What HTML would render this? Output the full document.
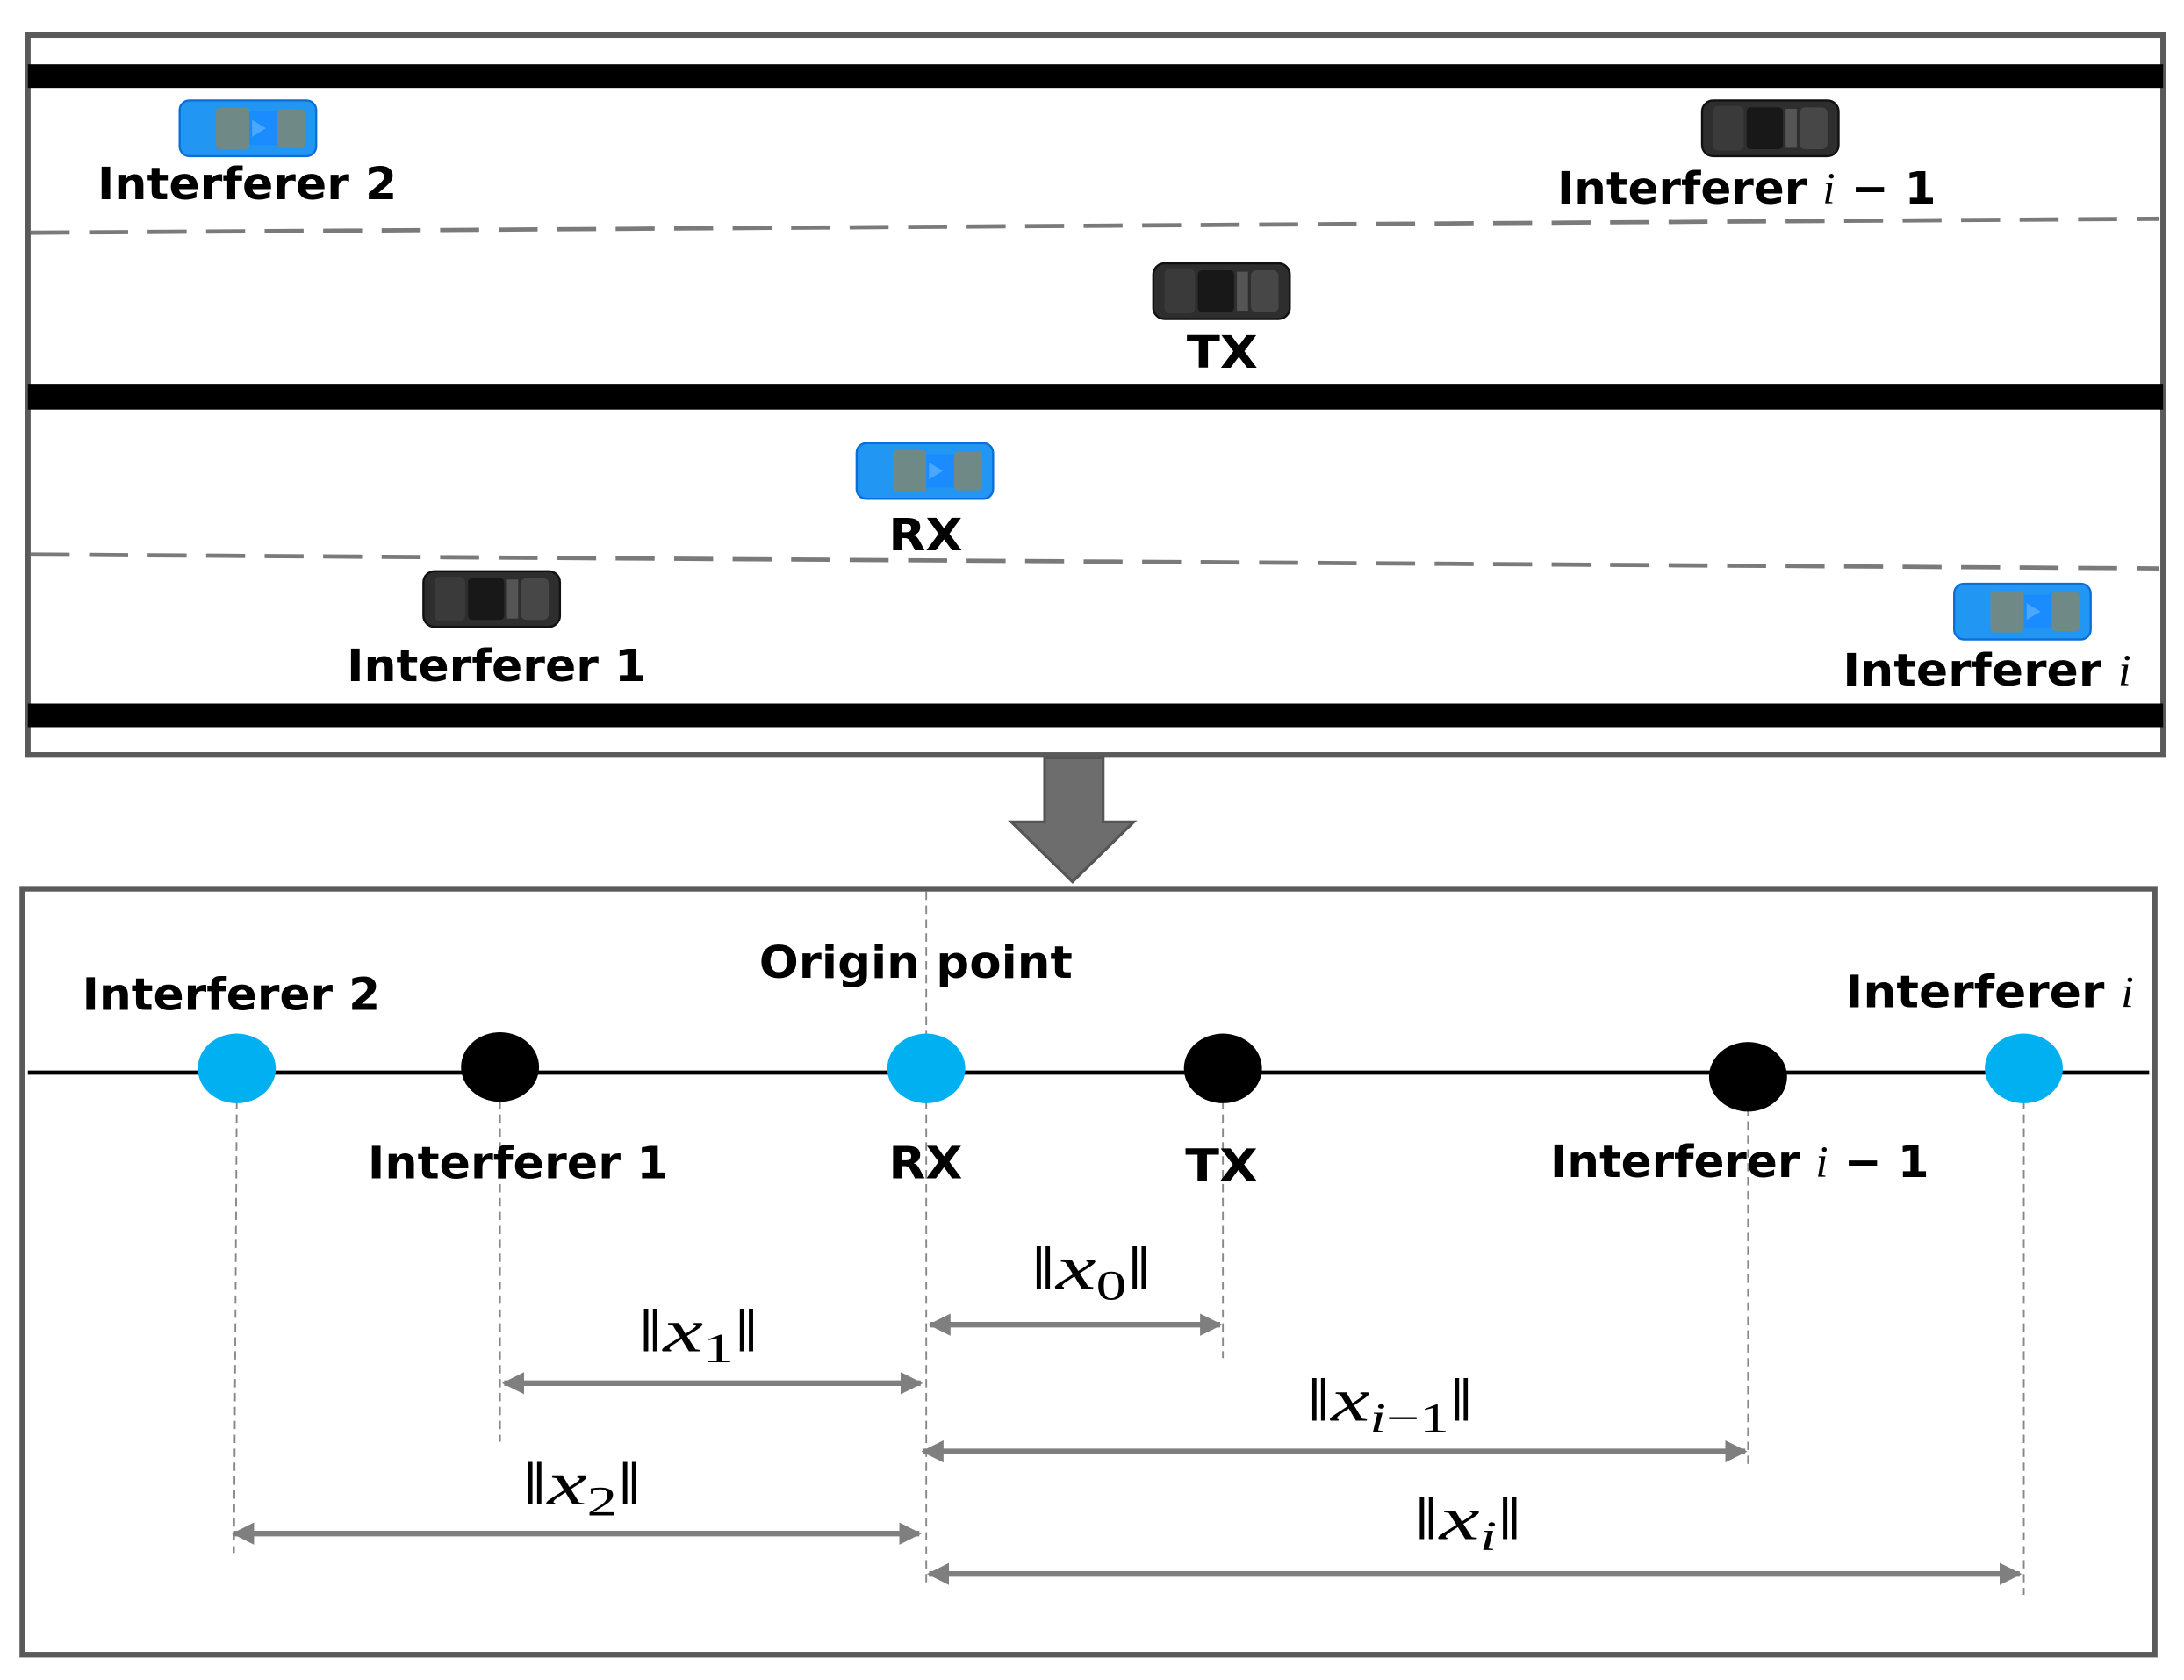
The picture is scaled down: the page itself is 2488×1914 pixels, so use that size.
<!DOCTYPE html>
<html><head><meta charset="utf-8"><style>
html,body{margin:0;padding:0;background:#fff;}
svg{display:block;}
.lb{font-family:"DejaVu Sans","Liberation Sans",sans-serif;font-weight:bold;font-size:32px;fill:#000;}
.m{font-family:"Liberation Serif",serif;font-size:44px;fill:#000;}
</style></head><body>
<svg width="2488" height="1914" viewBox="0 0 1568 1206" xmlns="http://www.w3.org/2000/svg">
<defs>
<g id="bc">
<rect x="0" y="0" width="98" height="40" rx="7" fill="#2196f3" stroke="#0a6fd8" stroke-width="1.5"/>
<rect x="26" y="5" width="24" height="30" rx="3" fill="#6f8a86"/>
<rect x="50" y="8" width="20" height="24" fill="#1a8cff"/>
<path d="M52 14 L62 20 L52 26Z" fill="#4aa8ff"/>
<rect x="70" y="6" width="20" height="28" rx="3" fill="#6f8a86"/>
</g>
<g id="kc">
<rect x="0" y="0" width="98" height="40" rx="8" fill="#2e2e2e" stroke="#111" stroke-width="1.5"/>
<rect x="8" y="4" width="22" height="32" rx="4" fill="#3a3a3a"/>
<rect x="32" y="5" width="26" height="30" rx="3" fill="#181818"/>
<rect x="60" y="6" width="8" height="28" fill="#555"/>
<rect x="70" y="5" width="20" height="30" rx="4" fill="#474747"/>
</g>
<marker id="a" viewBox="0 0 10 10" refX="9" refY="5" markerWidth="4" markerHeight="4" orient="auto-start-reverse">
<path d="M0 0 L10 5 L0 10 Z" fill="#7f7f7f"/></marker>
</defs>
<rect x="20" y="25" width="1533" height="517" fill="#fff" stroke="#5a5a5a" stroke-width="4"/>
<rect x="20" y="46" width="1533" height="17" fill="#000"/>
<rect x="20" y="276" width="1533" height="18" fill="#000"/>
<rect x="20" y="505" width="1533" height="17" fill="#000"/>
<line x1="22" y1="167" x2="1550" y2="157" stroke="#7a7a7a" stroke-width="3" stroke-dasharray="28 14"/>
<line x1="22" y1="398" x2="1550" y2="408" stroke="#7a7a7a" stroke-width="3" stroke-dasharray="28 14"/>
<use href="#bc" x="129" y="72"/>
<use href="#kc" x="1222" y="72"/>
<use href="#kc" x="828" y="189"/>
<use href="#bc" x="615" y="318"/>
<use href="#kc" x="304" y="410"/>
<use href="#bc" x="1403" y="419"/>
<g lengthAdjust="spacingAndGlyphs">
<text class="lb" x="70" y="143" textLength="215" lengthAdjust="spacingAndGlyphs">Interferer 2</text>
<text class="lb" x="1118" y="146" textLength="272" lengthAdjust="spacingAndGlyphs">Interferer <tspan font-family="Liberation Serif" font-style="italic" font-weight="normal">i</tspan> − 1</text>
<text class="lb" x="852" y="264" textLength="51" lengthAdjust="spacingAndGlyphs">TX</text>
<text class="lb" x="638" y="395" textLength="53" lengthAdjust="spacingAndGlyphs">RX</text>
<text class="lb" x="249" y="489" textLength="215" lengthAdjust="spacingAndGlyphs">Interferer 1</text>
<text class="lb" x="1323" y="492" textLength="207" lengthAdjust="spacingAndGlyphs">Interferer <tspan font-family="Liberation Serif" font-style="italic" font-weight="normal">i</tspan></text>
</g>
<path d="M750 544 L792 544 L792 590 L814 590 L770 633 L726 590 L750 590 Z" fill="#6d6d6d" stroke="#555" stroke-width="2"/>
<rect x="16" y="638" width="1531" height="550" fill="none" stroke="#5a5a5a" stroke-width="4"/>
<line x1="20" y1="770" x2="1543" y2="770" stroke="#000" stroke-width="3"/>
<g stroke="#888" stroke-width="1.2" stroke-dasharray="6 4">
<line x1="170" y1="790" x2="168" y2="1115"/>
<line x1="359" y1="790" x2="359" y2="1035"/>
<line x1="665" y1="640" x2="665" y2="1140"/>
<line x1="878" y1="790" x2="878" y2="975"/>
<line x1="1255" y1="795" x2="1255" y2="1055"/>
<line x1="1453" y1="790" x2="1453" y2="1145"/>
</g>
<ellipse cx="170" cy="767" rx="28" ry="25" fill="#00b0f0"/>
<ellipse cx="359" cy="766" rx="28" ry="25" fill="#000"/>
<ellipse cx="665" cy="767" rx="28" ry="25" fill="#00b0f0"/>
<ellipse cx="878" cy="767" rx="28" ry="25" fill="#000"/>
<ellipse cx="1255" cy="773" rx="28" ry="25" fill="#000"/>
<ellipse cx="1453" cy="767" rx="28" ry="25" fill="#00b0f0"/>
<text class="lb" x="545" y="702" textLength="225" lengthAdjust="spacingAndGlyphs">Origin point</text>
<text class="lb" x="59" y="725" textLength="214" lengthAdjust="spacingAndGlyphs">Interferer 2</text>
<text class="lb" x="1325" y="723" textLength="207" lengthAdjust="spacingAndGlyphs">Interferer <tspan font-family="Liberation Serif" font-style="italic" font-weight="normal">i</tspan></text>
<text class="lb" x="264" y="846" textLength="216" lengthAdjust="spacingAndGlyphs">Interferer 1</text>
<text class="lb" x="638" y="846" textLength="53" lengthAdjust="spacingAndGlyphs">RX</text>
<text class="lb" x="851" y="848" textLength="52" lengthAdjust="spacingAndGlyphs">TX</text>
<text class="lb" x="1113" y="845" textLength="272" lengthAdjust="spacingAndGlyphs">Interferer <tspan font-family="Liberation Serif" font-style="italic" font-weight="normal">i</tspan> − 1</text>
<g stroke="#7f7f7f" stroke-width="4" marker-start="url(#a)" marker-end="url(#a)">
<line x1="668" y1="951" x2="876" y2="951"/>
<line x1="362" y1="993" x2="661" y2="993"/>
<line x1="663" y1="1042" x2="1253" y2="1042"/>
<line x1="168" y1="1101" x2="660" y2="1101"/>
<line x1="667" y1="1130" x2="1450" y2="1130"/>
</g>
<g class="m">
<text class="m" x="740" y="925" textLength="87" lengthAdjust="spacingAndGlyphs">‖<tspan font-style="italic">x</tspan><tspan font-size="30" dy="8">0</tspan><tspan dy="-8">‖</tspan></text>
<text class="m" x="458" y="970" textLength="87" lengthAdjust="spacingAndGlyphs">‖<tspan font-style="italic">x</tspan><tspan font-size="30" dy="8">1</tspan><tspan dy="-8">‖</tspan></text>
<text class="m" x="938" y="1020" textLength="120" lengthAdjust="spacingAndGlyphs">‖<tspan font-style="italic">x</tspan><tspan font-size="30" dy="8"><tspan font-style="italic">i</tspan>−1</tspan><tspan dy="-8">‖</tspan></text>
<text class="m" x="375" y="1080" textLength="86" lengthAdjust="spacingAndGlyphs">‖<tspan font-style="italic">x</tspan><tspan font-size="30" dy="8">2</tspan><tspan dy="-8">‖</tspan></text>
<text class="m" x="1015" y="1105" textLength="78" lengthAdjust="spacingAndGlyphs">‖<tspan font-style="italic">x</tspan><tspan font-size="30" dy="8" font-style="italic">i</tspan><tspan dy="-8">‖</tspan></text>
</g>
</svg>
</body></html>
